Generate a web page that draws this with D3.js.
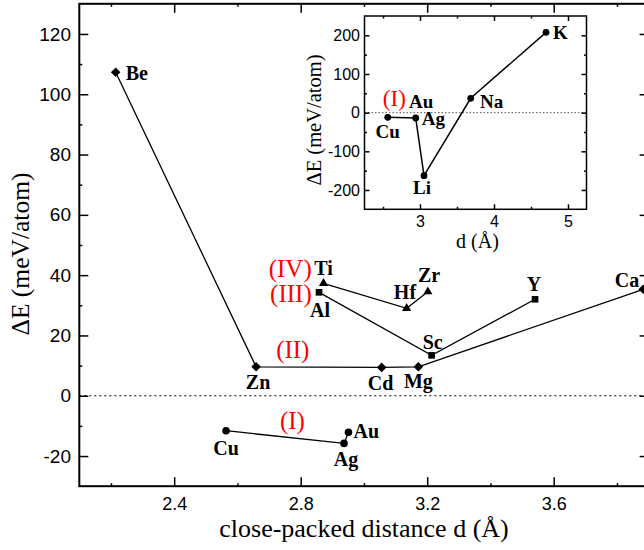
<!DOCTYPE html>
<html>
<head>
<meta charset="utf-8">
<script src="https://cdn.jsdelivr.net/npm/d3@7"></script>
<style>
  body { margin: 0; background: #fff; }
  .tick text { font-family: "Liberation Sans", Arial, sans-serif; fill: #000; }
  .tick line { stroke: #000; stroke-width: 1.5; }
  .el { font-family: "Liberation Serif", "Times New Roman", serif; font-weight: bold; fill: #000; }
  .grp { font-family: "Liberation Serif", "Times New Roman", serif; fill: #ff0000; }
  .title { font-family: "Liberation Serif", "Times New Roman", serif; fill: #000; }
</style>
</head>
<body>
<svg id="chart" width="644" height="550"></svg>
<script>
// main plot data
const diamondNames = ["Be", "Zn", "Cd", "Mg", "Ca"];
const diamondD = [2.215, 2.659, 3.056, 3.172, 3.883];
const diamondE = [107.3, 9.6, 9.4, 9.6, 35.3];

const squareNames = ["Al", "Sc", "Y"];
const squareD = [2.858, 3.214, 3.541];
const squareE = [34.3, 13.4, 32.0];

const triangleNames = ["Ti", "Hf", "Zr"];
const triangleD = [2.872, 3.135, 3.202];
const triangleE = [37.3, 29.0, 34.5];

const circleNames = ["Cu", "Ag", "Au"];
const circleD = [2.564, 2.937, 2.951];
const circleE = [-11.6, -15.8, -12.1];

// inset data
const insetNames = ["Cu", "Ag", "Li", "Na", "K"];
const insetD = [2.564, 2.942, 3.054, 3.685, 4.703];
const insetE = [-12.0, -13.8, -163, 37.1, 207.8];

// group tags (roman numerals) placed in data coordinates
const groupTags = ["(IV)", "(III)", "(II)", "(I)"];
const groupTagD = [2.835, 2.835, 2.775, 2.774];
const groupTagE = [39.5, 31.2, 12.4, -11.1];
const groupTagAnchor = ["end", "end", "middle", "middle"];

// ticks
const xMajor = [2.4, 2.8, 3.2, 3.6];
const xMinor = [2.2, 2.6, 3.0, 3.4, 3.8];
const yMajor = [-20, 0, 20, 40, 60, 80, 100, 120];
const yMinor = [-10, 10, 30, 50, 70, 90, 110];
const insetXMajor = [3, 4, 5];
const insetXMinor = [2.5, 3.5, 4.5];
const insetYMajor = [-200, -100, 0, 100, 200];
const insetYMinor = [-150, -50, 50, 150];

// label offsets in px (dx, dy, anchor)
const labelPos = {
    Be: [10, 8, "start"], Zn: [2, 22.5, "middle"], Cd: [-1, 22.5, "middle"],
    Mg: [0, 21.5, "middle"], Ca: [-28.5, -2, "start"],
    Al: [1, 24.4, "middle"], Sc: [1, -6, "middle"], Y: [-1, -8, "middle"],
    Ti: [0, -8.3, "middle"], Hf: [-1.7, -9, "middle"], Zr: [1.3, -10, "middle"],
    Cu: [0, 24.3, "middle"], Ag: [2, 22.7, "middle"], Au: [5, 6, "start"]
};
const insetLabelPos = {
    Cu: [0, 20.7, "middle"], Ag: [6, 7, "start"], Li: [-2, 18.3, "middle"],
    Na: [9.3, 9.7, "start"], K: [7, 6.7, "start"]
};

const svg = d3.select("#chart");

const x = d3.scaleLinear().domain([2.1, 3.9]).range([79.3, 648.6]);
const y = d3.scaleLinear().domain([-30, 130]).range([486.2, 3.8]);

// zero line
svg.append("line")
    .attr("x1", x(2.1)).attr("x2", x(3.9))
    .attr("y1", y(0)).attr("y2", y(0))
    .attr("stroke", "#000").attr("stroke-width", 1.2)
    .attr("stroke-dasharray", "2,3");

const plain = d => String(d);

function axes(g, xs, ys, opt) {
    const [x0, x1] = xs.range();
    const [y0, y1] = ys.range();
    g.append("g").attr("class", "xlab").attr("transform", `translate(0,${y0})`)
        .call(d3.axisBottom(xs).tickValues(opt.xMajor).tickSize(-opt.major).tickPadding(opt.xPad).tickFormat(opt.xFmt));
    g.append("g").attr("transform", `translate(0,${y0})`)
        .call(d3.axisBottom(xs).tickValues(opt.xMinor).tickSize(-opt.minor).tickFormat(""));
    g.append("g").attr("transform", `translate(0,${y1})`)
        .call(d3.axisTop(xs).tickValues(opt.xMajor).tickSize(-opt.major).tickFormat(""));
    g.append("g").attr("transform", `translate(0,${y1})`)
        .call(d3.axisTop(xs).tickValues(opt.xMinor).tickSize(-opt.minor).tickFormat(""));
    g.append("g").attr("class", "ylab").attr("transform", `translate(${x0},0)`)
        .call(d3.axisLeft(ys).tickValues(opt.yMajor).tickSize(-opt.major).tickPadding(opt.yPad).tickFormat(plain));
    g.append("g").attr("transform", `translate(${x0},0)`)
        .call(d3.axisLeft(ys).tickValues(opt.yMinor).tickSize(-opt.minor).tickFormat(""));
    g.append("g").attr("transform", `translate(${x1},0)`)
        .call(d3.axisRight(ys).tickValues(opt.yMajor).tickSize(-opt.major).tickFormat(""));
    g.append("g").attr("transform", `translate(${x1},0)`)
        .call(d3.axisRight(ys).tickValues(opt.yMinor).tickSize(-opt.minor).tickFormat(""));
    g.selectAll(".domain").remove();
    g.selectAll(".xlab .tick text").attr("font-size", opt.xFont);
    g.selectAll(".ylab .tick text").attr("font-size", opt.yFont);
    g.selectAll(".tick line").attr("stroke-width", opt.tickW);
    g.append("rect")
        .attr("x", x0).attr("y", y1)
        .attr("width", x1 - x0).attr("height", y0 - y1)
        .attr("fill", "none").attr("stroke", "#000").attr("stroke-width", opt.frameW);
}

const mainAxes = svg.append("g");
axes(mainAxes, x, y, {
    xMajor, xMinor, yMajor, yMinor, major: 9, minor: 3,
    xPad: 11.2, yPad: 8.3, xFmt: d3.format(".1f"), xFont: 18, yFont: 19, tickW: 1.5, frameW: 2
});

// axis titles
svg.append("text").attr("class", "title")
    .attr("x", 364).attr("y", 537)
    .attr("text-anchor", "middle").attr("font-size", 26)
    .text("close-packed distance d (Å)");
svg.append("text").attr("class", "title")
    .attr("transform", "translate(29,254) rotate(-90)")
    .attr("text-anchor", "middle").attr("font-size", 25.5)
    .text("ΔE (meV/atom)");

const line = d3.line().x(d => x(d.d)).y(d => y(d.e));
const rows = (names, ds, es) => names.map((n, i) => ({ name: n, d: ds[i], e: es[i] }));

const diamonds = rows(diamondNames, diamondD, diamondE);
const squares = rows(squareNames, squareD, squareE);
const triangles = rows(triangleNames, triangleD, triangleE);
const circles = rows(circleNames, circleD, circleE);

[diamonds, squares, triangles, circles].forEach(s => {
    svg.append("path").datum(s)
        .attr("d", line)
        .attr("fill", "none").attr("stroke", "#000").attr("stroke-width", 1.3);
});

const diamondSym = { draw(ctx, size) { const r = Math.sqrt(size / 2);
    ctx.moveTo(0, -r); ctx.lineTo(r, 0); ctx.lineTo(0, r); ctx.lineTo(-r, 0); ctx.closePath(); } };
const triSym = { draw(ctx, size) { const s = Math.sqrt(size * 4 / Math.sqrt(3)); const h = s * Math.sqrt(3) / 2;
    ctx.moveTo(0, -h * 2 / 3); ctx.lineTo(s / 2, h / 3); ctx.lineTo(-s / 2, h / 3); ctx.closePath(); } };

svg.selectAll(".dia").data(diamonds).enter().append("path")
    .attr("transform", d => `translate(${x(d.d)},${y(d.e)})`)
    .attr("d", d3.symbol(diamondSym, 46));
svg.selectAll(".sq").data(squares).enter().append("path")
    .attr("transform", d => `translate(${x(d.d)},${y(d.e)})`)
    .attr("d", d3.symbol(d3.symbolSquare, 44));
svg.selectAll(".tri").data(triangles).enter().append("path")
    .attr("transform", d => `translate(${x(d.d)},${y(d.e)})`)
    .attr("d", d3.symbol(triSym, 36));
svg.selectAll(".circ").data(circles).enter().append("circle")
    .attr("cx", d => x(d.d)).attr("cy", d => y(d.e)).attr("r", 3.8);

const allMain = diamonds.concat(squares, triangles, circles);
svg.selectAll(".el-main").data(allMain).enter().append("text")
    .attr("class", "el")
    .attr("font-size", 20)
    .attr("x", d => x(d.d) + labelPos[d.name][0])
    .attr("y", d => y(d.e) + labelPos[d.name][1])
    .attr("text-anchor", d => labelPos[d.name][2])
    .text(d => d.name);

svg.selectAll(".grp-main").data(groupTags).enter().append("text")
    .attr("class", "grp")
    .attr("font-size", 25)
    .attr("x", (d, i) => x(groupTagD[i]))
    .attr("y", (d, i) => y(groupTagE[i]))
    .attr("text-anchor", (d, i) => groupTagAnchor[i])
    .text(d => d);

// ---- inset ----
const ix = d3.scaleLinear().domain([2.25, 5.25]).range([364.5, 586.5]);
const iy = d3.scaleLinear().domain([-250, 250]).range([209.3, 16]);
const inset = svg.append("g");

inset.append("rect")
    .attr("x", 364.5).attr("y", 16).attr("width", 222).attr("height", 193.3)
    .attr("fill", "#fff");
inset.append("line")
    .attr("x1", ix(2.25)).attr("x2", ix(5.25))
    .attr("y1", iy(0)).attr("y2", iy(0))
    .attr("stroke", "#555").attr("stroke-width", 1)
    .attr("stroke-dasharray", "1.5,2");

axes(inset, ix, iy, {
    xMajor: insetXMajor, xMinor: insetXMinor, yMajor: insetYMajor, yMinor: insetYMinor,
    major: 5, minor: 2.5, xPad: 6, yPad: 4.5, xFmt: plain, xFont: 16, yFont: 16, tickW: 1.2, frameW: 1.5
});

inset.append("text").attr("class", "title")
    .attr("x", 477.5).attr("y", 248)
    .attr("text-anchor", "middle").attr("font-size", 20)
    .text("d (Å)");
inset.append("text").attr("class", "title")
    .attr("transform", "translate(321,120) rotate(-90)")
    .attr("text-anchor", "middle").attr("font-size", 20.5)
    .text("ΔE (meV/atom)");

const insetRows = rows(insetNames, insetD, insetE);
inset.append("path").datum(insetRows)
    .attr("d", d3.line().x(d => ix(d.d)).y(d => iy(d.e)))
    .attr("fill", "none").attr("stroke", "#000").attr("stroke-width", 1.5);
inset.selectAll(".idot").data(insetRows).enter().append("circle")
    .attr("cx", d => ix(d.d)).attr("cy", d => iy(d.e)).attr("r", 3.4);
inset.selectAll(".ilab").data(insetRows).enter().append("text")
    .attr("class", "el").attr("font-size", 19)
    .attr("x", d => ix(d.d) + insetLabelPos[d.name][0])
    .attr("y", d => iy(d.e) + insetLabelPos[d.name][1])
    .attr("text-anchor", d => insetLabelPos[d.name][2])
    .text(d => d.name);
// Au sits on top of Ag in the inset
inset.append("text").attr("class", "el").attr("font-size", 19)
    .attr("x", ix(2.942) - 6.7).attr("y", iy(-13.8) - 10)
    .text("Au");
inset.append("text").attr("class", "grp").attr("font-size", 23)
    .attr("x", ix(2.653)).attr("y", iy(17.2))
    .attr("text-anchor", "middle")
    .text("(I)");
</script>
</body>
</html>
